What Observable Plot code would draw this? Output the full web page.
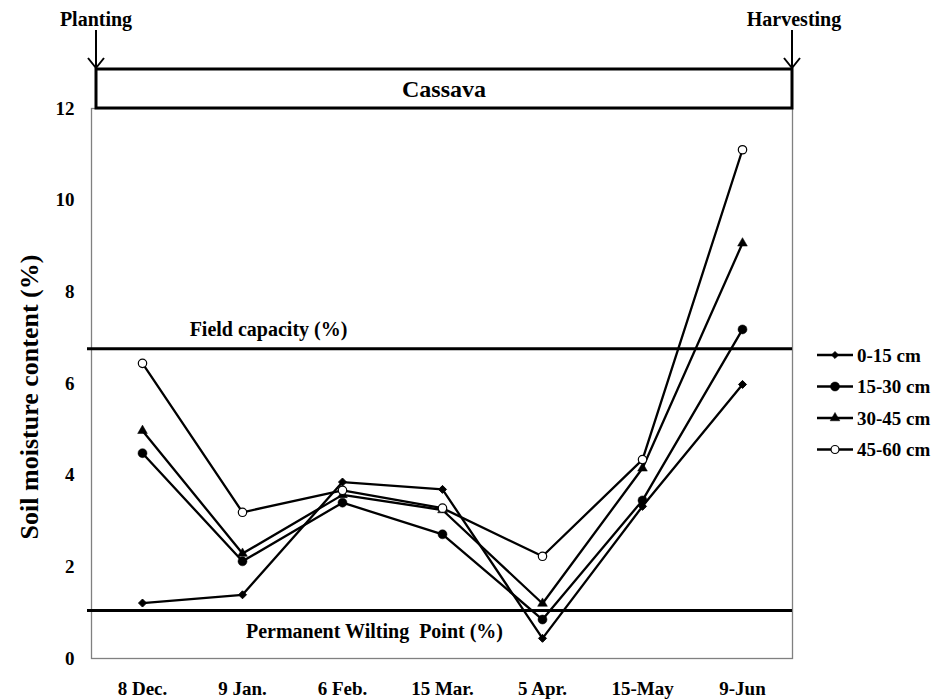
<!DOCTYPE html>
<html><head><meta charset="utf-8">
<script src="https://cdn.jsdelivr.net/npm/d3@7"></script>
<script src="https://cdn.jsdelivr.net/npm/@observablehq/plot@0.6"></script>
<style>
body{margin:0;background:#fff}
svg{font-family:"Liberation Serif","Times New Roman",serif;font-weight:bold}
</style>
</head><body><div id="chart"></div>
<script>
const dates = ["8 Dec.","9 Jan.","6 Feb.","15 Mar.","5 Apr.","15-May","9-Jun"];
const depth0_15  = [1.21,1.39,3.85,3.69,0.44,3.32,5.98];
const depth15_30 = [4.48,2.12,3.40,2.71,0.85,3.45,7.18];
const depth30_45 = [4.97,2.29,3.57,3.24,1.20,4.15,9.06];
const depth45_60 = [6.44,3.19,3.67,3.28,2.23,4.34,11.10];
const seriesNames = ["0-15 cm","15-30 cm","30-45 cm","45-60 cm"];
const yTicks = [0,2,4,6,8,10,12];
const fieldCapacity = 6.76;
const wiltingPoint = 1.05;
const cropName = "Cassava";

const seriesArrays = [depth0_15, depth15_30, depth30_45, depth45_60];
const data = [];
seriesNames.forEach((s,i)=>dates.forEach((d,j)=>data.push({series:s,date:d,value:seriesArrays[i][j]})));

const styles = {
  "0-15 cm":  {symbol:"diamond2", r:3.6, fill:"black", stroke:"black", strokeWidth:1},
  "15-30 cm": {symbol:"circle", r:4.5, fill:"black", stroke:"black", strokeWidth:0.5},
  "30-45 cm": {symbol:"triangle", r:3.6, fill:"black", stroke:"black", strokeWidth:0.5},
  "45-60 cm": {symbol:"circle", r:4.2, fill:"white", stroke:"black", strokeWidth:1.2}
};

const W = 937, H = 700, mL = 91, mR = 145, mT = 108, mB = 42;
const font = '"Liberation Serif","Times New Roman",serif';

const chart = Plot.plot({
  width: W, height: H,
  marginLeft: mL, marginRight: mR, marginTop: mT, marginBottom: mB,
  style: {fontFamily: font, fontWeight: "bold", fontSize: "19px", background: "white", color: "black"},
  x: {type: "point", domain: dates, padding: 0.5, label: null},
  y: {domain: [0, 12], label: null},
  marks: [
    Plot.frame({stroke: "#808080", strokeWidth: 1.3}),
    Plot.axisX({tickSize: 0, tickPadding: 23, fontSize: 19, label: null}),
    Plot.axisY(yTicks, {tickSize: 0, tickPadding: 17, fontSize: 19, label: null}),
    Plot.ruleY([fieldCapacity, wiltingPoint], {stroke: "black", strokeWidth: 3, insetLeft: -4}),
    Plot.text([{label: "Field capacity (%)", date: dates[1], value: fieldCapacity}],
      {x: "date", y: "value", text: "label", dx: 26, dy: -19, fontSize: 20}),
    Plot.text([{label: "Permanent Wilting  Point (%)", date: dates[2], value: wiltingPoint}],
      {x: "date", y: "value", text: "label", dx: 32, dy: 21, fontSize: 20}),
    Plot.line(data, {x: "date", y: "value", z: "series", stroke: "black", strokeWidth: 2.3}),
    ...seriesNames.map(s => Plot.dot(data.filter(d => d.series === s), {x: "date", y: "value", ...styles[s]}))
  ]
});

document.getElementById("chart").appendChild(chart);

// Decorations outside the frame
const svg = d3.select(chart);
const ys = chart.scale("y");
const yTop = ys.apply(12);
const left = mL + 5, right = W - mR;
const boxTop = yTop - 39;

const g = svg.append("g").attr("fill", "none").attr("stroke", "black");
g.append("rect").attr("x", left).attr("y", boxTop).attr("width", right - left).attr("height", yTop - boxTop)
  .attr("stroke-width", 3).attr("fill", "white");
[left, right].forEach(x => {
  g.append("line").attr("x1", x).attr("x2", x).attr("y1", 30).attr("y2", boxTop - 1).attr("stroke-width", 2);
  g.append("polyline").attr("points", `${x-8},${boxTop-11} ${x},${boxTop-1} ${x+8},${boxTop-11}`).attr("stroke-width", 2);
});
svg.append("text").attr("x", (left + right) / 2).attr("y", (boxTop + yTop) / 2).attr("dy", "0.35em")
  .attr("text-anchor", "middle").attr("font-size", 24).text(cropName);
svg.append("text").attr("x", left).attr("y", 26).attr("text-anchor", "middle").attr("font-size", 20).text("Planting");
svg.append("text").attr("x", right + 2).attr("y", 26).attr("text-anchor", "middle").attr("font-size", 20).text("Harvesting");

// Y axis title
svg.append("text").attr("transform", `translate(38,${(yTop + ys.apply(0)) / 2 + 14}) rotate(-90)`)
  .attr("text-anchor", "middle").attr("font-size", 26).text("Soil moisture content (%)");

// Legend
const legendSym = {
  "0-15 cm":  {type: d3.symbolDiamond2, size: 30, fill: "black", sw: 1},
  "15-30 cm": {type: d3.symbolCircle, size: 64, fill: "black", sw: 0.5},
  "30-45 cm": {type: d3.symbolTriangle, size: 40, fill: "black", sw: 0.5},
  "45-60 cm": {type: d3.symbolCircle, size: 50, fill: "white", sw: 1.2}
};
const lg = svg.append("g");
seriesNames.forEach((s, i) => {
  const y = 355 + i * 31.5;
  lg.append("line").attr("x1", 817).attr("x2", 853).attr("y1", y).attr("y2", y).attr("stroke", "black").attr("stroke-width", 2.3);
  const st = legendSym[s];
  lg.append("path").attr("d", d3.symbol(st.type, st.size)()).attr("transform", `translate(835,${y})`)
    .attr("fill", st.fill).attr("stroke", "black").attr("stroke-width", st.sw);
  lg.append("text").attr("x", 857).attr("y", y).attr("dy", "0.35em").attr("text-anchor", "start")
    .attr("font-size", 19).text(s);
});
</script>
</body></html>
